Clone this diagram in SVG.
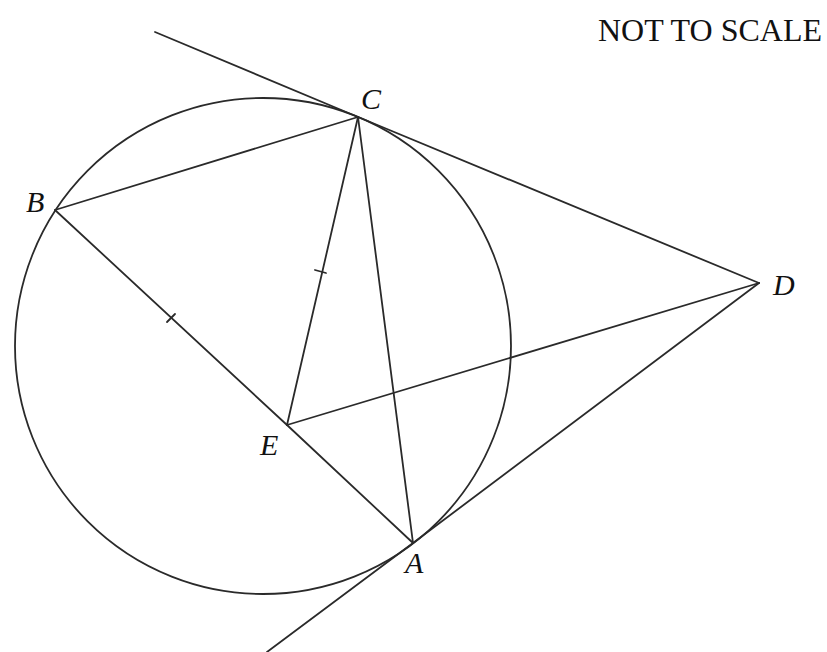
<svg xmlns="http://www.w3.org/2000/svg" width="827" height="652" viewBox="0 0 827 652">
<style>
.ln{stroke:#2a2a2a;stroke-width:1.8;fill:none;stroke-linecap:round}
.lbl{font-family:"Liberation Serif","DejaVu Serif",serif;font-style:italic;font-size:30px;fill:#111}
.note{font-family:"Liberation Serif","DejaVu Serif",serif;font-size:32px;fill:#111}
</style>
<rect width="827" height="652" fill="#fff"/>
<g id="circle"><circle class="ln" cx="263" cy="346" r="248"/></g>
<g id="connectors">
<line class="ln" x1="155" y1="32" x2="358" y2="117"/>
<line class="ln" x1="358" y1="117" x2="759" y2="283"/>
<line class="ln" x1="267" y1="652" x2="413" y2="543"/>
<line class="ln" x1="413" y1="543" x2="759" y2="283"/>
<line class="ln" x1="358" y1="117" x2="55" y2="210"/>
<line class="ln" x1="358" y1="117" x2="287" y2="425"/>
<line class="ln" x1="358" y1="117" x2="413" y2="543"/>
<line class="ln" x1="55" y1="210" x2="287" y2="425"/>
<line class="ln" x1="287" y1="425" x2="413" y2="543"/>
<line class="ln" x1="287" y1="425" x2="759" y2="283"/>
<line class="ln" x1="167" y1="322" x2="175" y2="314"/>
<line class="ln" x1="315" y1="270" x2="326" y2="273"/>
</g>
<g id="C"><text class="lbl" x="361" y="109">C</text></g>
<g id="B"><text class="lbl" x="26" y="212">B</text></g>
<g id="D"><text class="lbl" x="773" y="295">D</text></g>
<g id="E"><text class="lbl" x="260" y="455">E</text></g>
<g id="A"><text class="lbl" x="405" y="573">A</text></g>
<g id="note"><text class="note" x="598" y="41">NOT TO SCALE</text></g>
</svg>
